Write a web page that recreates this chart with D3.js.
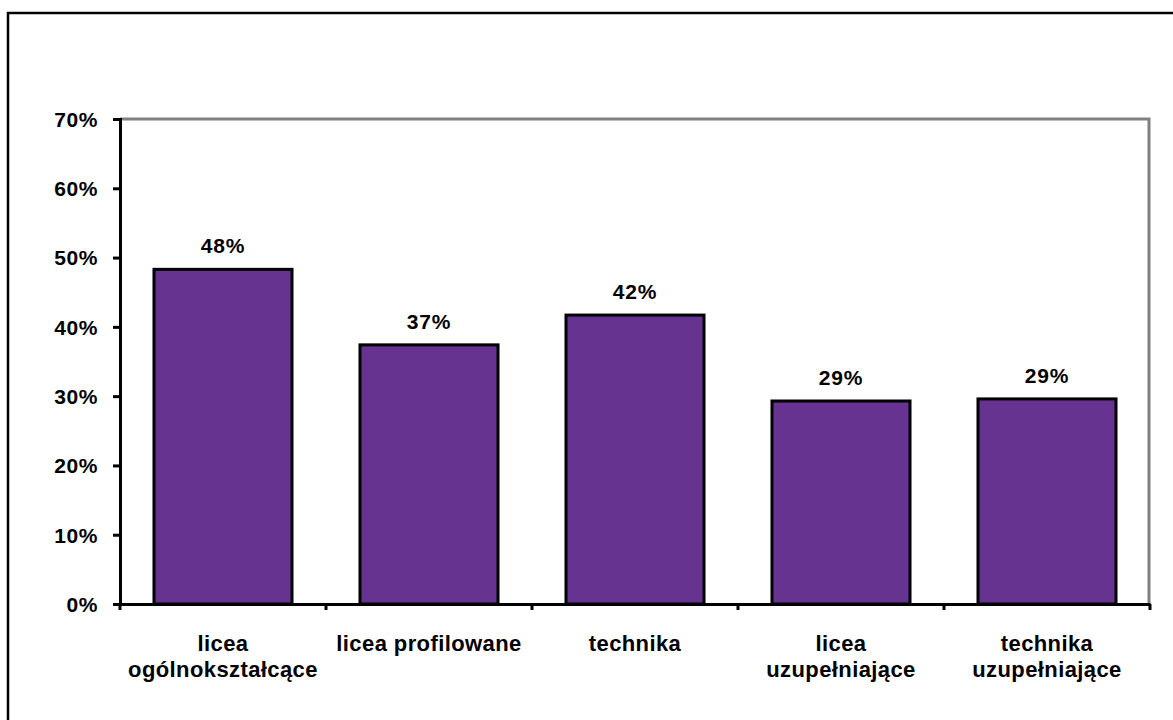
<!DOCTYPE html>
<html><head><meta charset="utf-8">
<script src="https://cdn.jsdelivr.net/npm/d3@7"></script>
<style>body{margin:0;background:#fff}svg{display:block}text{font-family:"Liberation Sans",Arial,sans-serif;font-weight:bold;fill:#000}</style>
</head><body>
<svg id="c" width="1173" height="720"></svg>
<script>
const categories = [["licea","ogólnokształcące"],["licea profilowane"],["technika"],["licea","uzupełniające"],["technika","uzupełniające"]];
const values = [0.483, 0.374, 0.417, 0.293, 0.296];
const valueLabels = ["48%","37%","42%","29%","29%"];
const yTicks = [0,0.1,0.2,0.3,0.4,0.5,0.6,0.7];

const FS = 21, FSC = 22;
const svg = d3.select("#c");
const L=120,R=1150,T=119,B=604;
const keys = categories.map(c=>c.join(" "));
const x = d3.scaleBand().domain(keys).range([L,R]).paddingInner(0.33).paddingOuter(0.165);
const y = d3.scaleLinear().domain([0,0.7]).range([B,T]);

// outer border
svg.append("rect").attr("x",8).attr("y",13).attr("width",1200).attr("height",800)
  .attr("fill","none").attr("stroke","#000").attr("stroke-width",2.5);

// gray frame top/right
svg.append("path").attr("d",`M${L},${y(0.7)}H${R-1}V${B}`).attr("fill","none")
  .attr("stroke","#808080").attr("stroke-width",3);

// bars
svg.selectAll(".bar").data(values).join("rect")
  .attr("x",(d,i)=>x(keys[i])).attr("width",x.bandwidth())
  .attr("y",d=>y(d)).attr("height",d=>y(0)-y(d))
  .attr("fill","#663390").attr("stroke","#000").attr("stroke-width",3);

// value labels
svg.selectAll(".vl").data(values).join("text")
  .attr("x",(d,i)=>x(keys[i])+x.bandwidth()/2).attr("y",d=>y(d)-16)
  .attr("text-anchor","middle").attr("font-size",FS).style("letter-spacing","0.8px").text((d,i)=>valueLabels[i]);

// y axis
const ya = svg.append("g").attr("transform",`translate(${L},0)`)
  .call(d3.axisLeft(y).tickValues(yTicks).tickFormat(d3.format(".0%")).tickSizeOuter(0).tickSize(7).tickPadding(15));
ya.attr("font-family",null).attr("font-size",null);
ya.select(".domain").attr("stroke","#000").attr("stroke-width",3);
ya.selectAll(".tick line").attr("stroke","#000").attr("stroke-width",3);
ya.selectAll(".tick text").attr("font-size",FS).attr("dy","0.35em").style("letter-spacing","0.6px");

// x axis
const xa = svg.append("g").attr("transform",`translate(0,${B})`)
  .call(d3.axisBottom(x).tickSize(0).tickSizeOuter(0).tickFormat(""));
xa.select(".domain").attr("stroke","#000").attr("stroke-width",3);
xa.attr("font-family",null).attr("font-size",null);
const bounds = keys.map(k=>x(k)-x.step()*x.paddingInner()/2).concat([R]);
xa.selectAll(".bt").data(bounds).join("line").attr("x1",d=>d).attr("x2",d=>d)
  .attr("y1",0).attr("y2",6).attr("stroke","#000").attr("stroke-width",3);

// category labels
categories.forEach((lines,i)=>{
  const cx = x(keys[i])+x.bandwidth()/2;
  const t = svg.append("text").attr("x",cx).attr("y",651)
    .attr("text-anchor","middle").attr("font-size",FSC).style("letter-spacing","0.4px");
  lines.forEach((ln,j)=>t.append("tspan").attr("x",cx).attr("dy",j?26:0).text(ln));
});
</script>
</body></html>
